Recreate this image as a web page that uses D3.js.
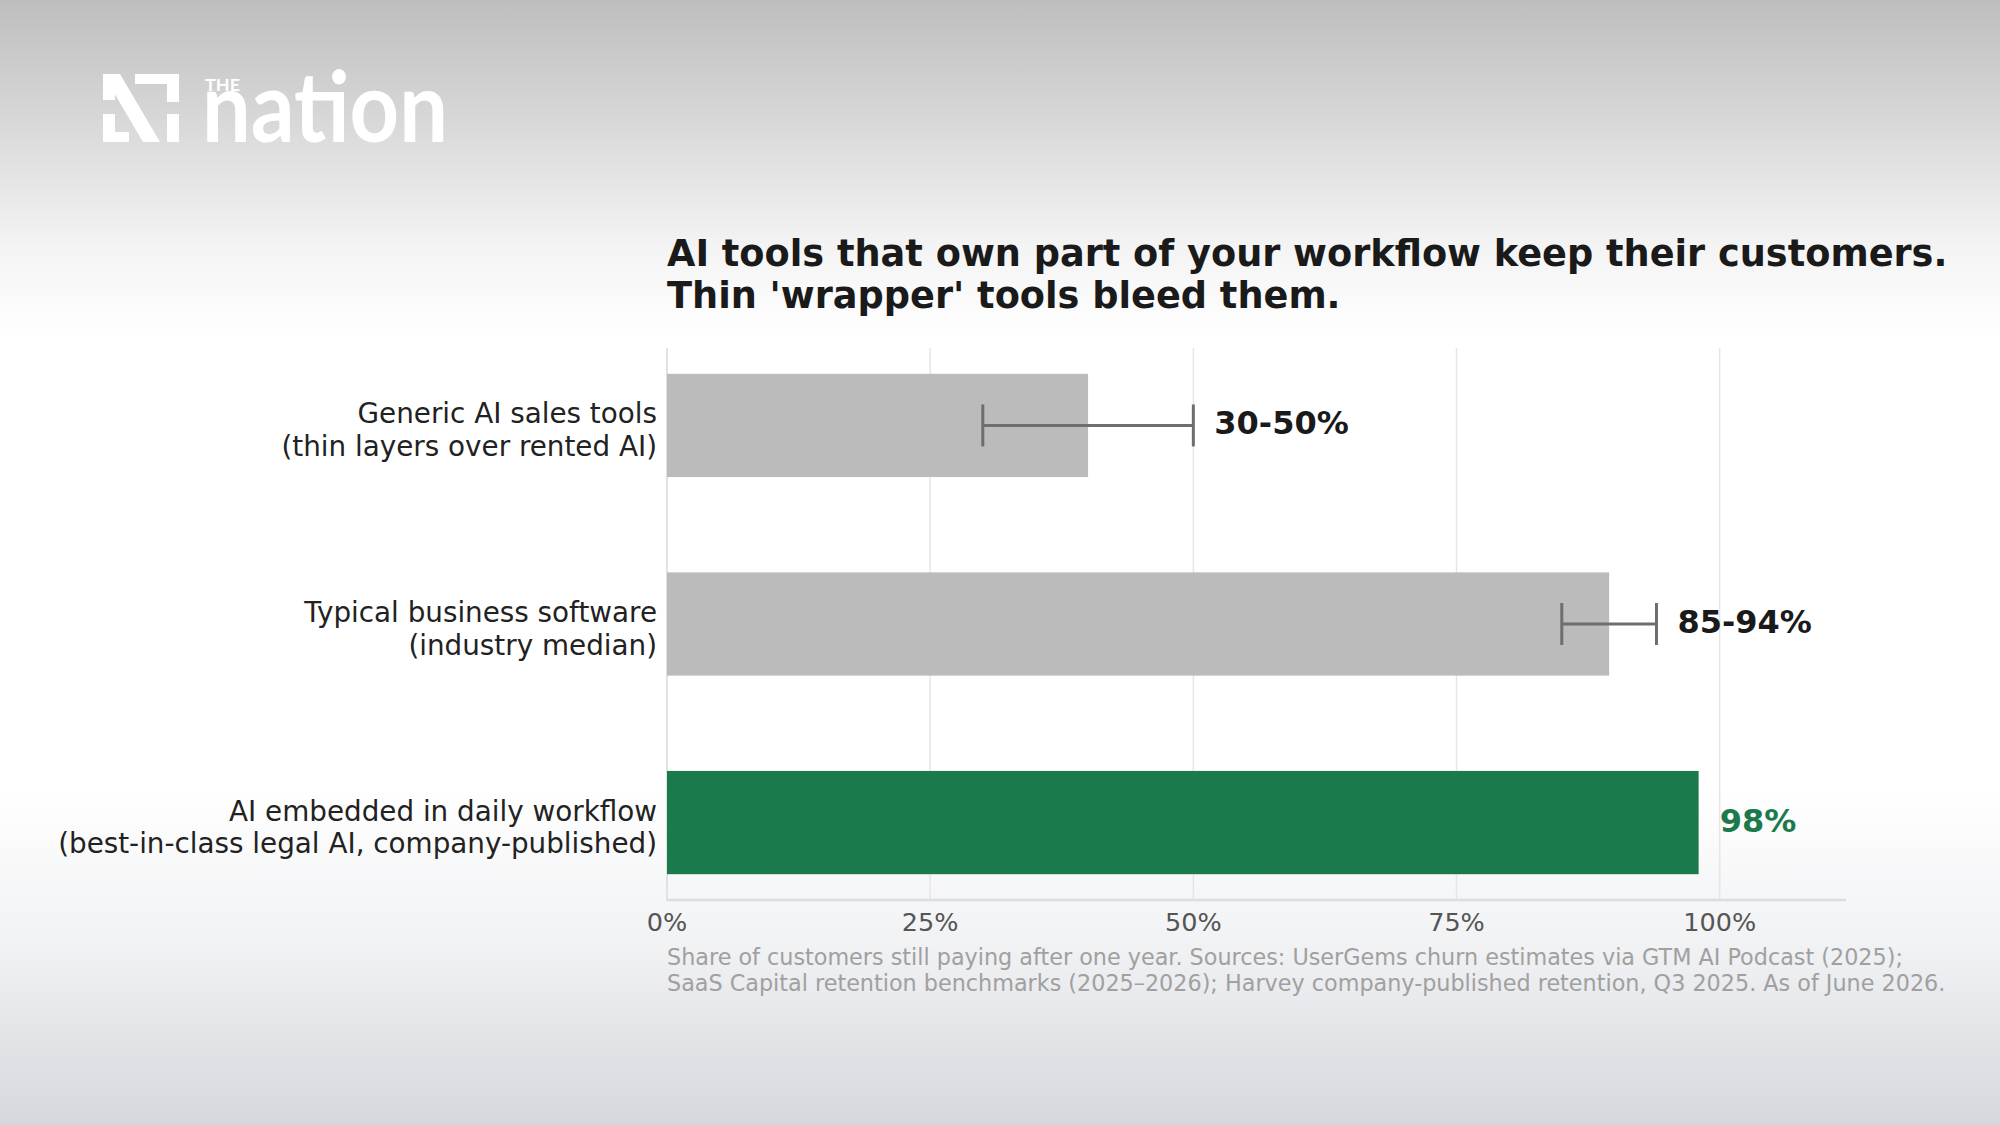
<!DOCTYPE html>
<html lang="en">
  <head>
    <meta charset="UTF-8" />
    <title>AI tools retention</title>
    <style type="text/css">
      body {
        margin: 0;
        overflow: hidden;
        font-family: "DejaVu Sans", Arial, sans-serif;
      }
      svg {
        display: block;
      }
    </style>
  </head>
  <body>
    <script src="https://d3js.org/d3.v7.min.js"></script>
    <script>
      // data
      var labelTop = [
        "Generic AI sales tools",
        "Typical business software",
        "AI embedded in daily workflow",
      ];
      var labelBottom = [
        "(thin layers over rented AI)",
        "(industry median)",
        "(best-in-class legal AI, company-published)",
      ];
      var barValues = [40, 89.5, 98];
      var rangeLow = [30, 85, null];
      var rangeHigh = [50, 94, null];
      var valueLabels = ["30-50%", "85-94%", "98%"];
      var barColors = ["#bbbbbb", "#bbbbbb", "#1b7a4b"];
      var labelColors = ["#1a1a1a", "#1a1a1a", "#1b7a4b"];
      var xTicks = [0, 25, 50, 75, 100];
      var titleLines = [
        "AI tools that own part of your workflow keep their customers.",
        "Thin 'wrapper' tools bleed them.",
      ];
      var captionLines = [
        "Share of customers still paying after one year. Sources: UserGems churn estimates via GTM AI Podcast (2025);",
        "SaaS Capital retention benchmarks (2025\u20132026); Harvey company-published retention, Q3 2025. As of June 2026.",
      ];

      var width = 2000;
      var height = 1125;
      var plot = { left: 667, right: 1846, top: 348, bottom: 900 };

      var svg = d3
        .select("body")
        .append("svg")
        .attr("width", width)
        .attr("height", height);

      // page background
      var defs = svg.append("defs");
      var bg = defs
        .append("linearGradient")
        .attr("id", "bg")
        .attr("x1", 0)
        .attr("y1", 0)
        .attr("x2", 0)
        .attr("y2", 1);
      [
        [0, "#bebebe"],
        [0.1, "#d6d6d6"],
        [0.22, "#f4f4f4"],
        [0.3, "#ffffff"],
        [0.7, "#ffffff"],
        [0.84, "#f1f2f4"],
        [1, "#d4d7dc"],
      ].forEach(([o, c]) => bg.append("stop").attr("offset", o).attr("stop-color", c));

      svg.append("rect").attr("width", width).attr("height", height).attr("fill", "url(#bg)");

      // logo
      var logo = svg.append("g").attr("transform", "translate(103,74)").attr("fill", "#ffffff");
      logo.append("polygon").attr("points", "0,0 17,0 57,68 40,68");
      logo.append("rect").attr("x", 0).attr("y", 0).attr("width", 12).attr("height", 26);
      logo.append("rect").attr("x", 0).attr("y", 40).attr("width", 12).attr("height", 28);
      logo.append("rect").attr("x", 0).attr("y", 58).attr("width", 26).attr("height", 10);
      logo.append("rect").attr("x", 32).attr("y", 0).attr("width", 44).attr("height", 10);
      logo.append("rect").attr("x", 64).attr("y", 0).attr("width", 12).attr("height", 28);
      logo.append("rect").attr("x", 64).attr("y", 40).attr("width", 12).attr("height", 28);

      svg
        .append("text")
        .attr("x", 205)
        .attr("y", 91)
        .attr("fill", "#ffffff")
        .style("font-family", "Lato")
        .style("font-weight", 700)
        .style("font-size", "17px")
        .attr("textLength", 35)
        .attr("lengthAdjust", "spacingAndGlyphs")
        .text("THE");
      svg
        .append("text")
        .attr("x", 202)
        .attr("y", 142)
        .attr("fill", "#ffffff")
        .style("font-family", "Lato")
        .style("font-weight", 700)
        .style("font-size", "98px")
        .attr("textLength", 246)
        .attr("lengthAdjust", "spacingAndGlyphs")
        .text("nation");

      // scales
      var x = d3.scaleLinear().domain([0, 112]).range([plot.left, plot.right]);
      var y = d3
        .scaleBand()
        .domain(d3.range(barValues.length))
        .range([plot.top, plot.bottom])
        .paddingInner(0.48)
        .paddingOuter(0.13);

      // gridlines
      svg
        .append("g")
        .selectAll("line")
        .data(xTicks)
        .join("line")
        .attr("x1", (d) => x(d))
        .attr("x2", (d) => x(d))
        .attr("y1", plot.top)
        .attr("y2", plot.bottom)
        .attr("stroke", "#e6e6e6")
        .attr("stroke-width", 1.5);

      // spines
      svg
        .append("line")
        .attr("x1", plot.left)
        .attr("x2", plot.left)
        .attr("y1", plot.top)
        .attr("y2", plot.bottom)
        .attr("stroke", "#e2e2e2")
        .attr("stroke-width", 2);
      svg
        .append("line")
        .attr("x1", plot.left)
        .attr("x2", plot.right)
        .attr("y1", plot.bottom)
        .attr("y2", plot.bottom)
        .attr("stroke", "#dddddd")
        .attr("stroke-width", 2.5);

      // bars
      svg
        .append("g")
        .selectAll("rect")
        .data(barValues)
        .join("rect")
        .attr("x", x(0))
        .attr("y", (d, i) => y(i))
        .attr("width", (d) => x(d) - x(0))
        .attr("height", y.bandwidth())
        .attr("fill", (d, i) => barColors[i]);

      // range whiskers
      var rangeIdx = d3.range(barValues.length).filter((i) => rangeLow[i] != null);
      var whisker = svg
        .append("g")
        .attr("stroke", "#6e6e6e")
        .attr("stroke-width", 3)
        .selectAll("g")
        .data(rangeIdx)
        .join("g")
        .attr("transform", (i) => `translate(0,${y(i) + y.bandwidth() / 2})`);
      whisker
        .append("line")
        .attr("x1", (i) => x(rangeLow[i]))
        .attr("x2", (i) => x(rangeHigh[i]));
      whisker
        .append("line")
        .attr("x1", (i) => x(rangeLow[i]))
        .attr("x2", (i) => x(rangeLow[i]))
        .attr("y1", -21)
        .attr("y2", 21);
      whisker
        .append("line")
        .attr("x1", (i) => x(rangeHigh[i]))
        .attr("x2", (i) => x(rangeHigh[i]))
        .attr("y1", -21)
        .attr("y2", 21);

      // value labels
      svg
        .append("g")
        .selectAll("text")
        .data(valueLabels)
        .join("text")
        .attr("x", (d, i) => x(Math.max(barValues[i], rangeHigh[i] || 0)) + 21)
        .attr("y", (d, i) => y(i) + y.bandwidth() / 2)
        .attr("dy", "0.28em")
        .attr("fill", (d, i) => labelColors[i])
        .style("font-weight", "bold")
        .style("font-size", "32px")
        .text((d) => d);

      // category labels
      var cat = svg
        .append("g")
        .attr("text-anchor", "end")
        .attr("fill", "#222222")
        .style("font-size", "27.8px")
        .selectAll("text")
        .data(labelTop)
        .join("text")
        .attr("x", plot.left - 10)
        .attr("y", (d, i) => y(i) + y.bandwidth() / 2);
      cat
        .append("tspan")
        .attr("x", plot.left - 10)
        .attr("dy", -2)
        .text((d) => d);
      cat
        .append("tspan")
        .attr("x", plot.left - 10)
        .attr("dy", 32.5)
        .text((d, i) => labelBottom[i]);

      // x tick labels
      svg
        .append("g")
        .attr("text-anchor", "middle")
        .attr("fill", "#555555")
        .style("font-size", "25.5px")
        .selectAll("text")
        .data(xTicks)
        .join("text")
        .attr("x", (d) => x(d))
        .attr("y", 931)
        .text((d) => d + "%");

      // title
      svg
        .append("g")
        .attr("fill", "#1a1a1a")
        .style("font-weight", "bold")
        .style("font-size", "36.7px")
        .selectAll("text")
        .data(titleLines)
        .join("text")
        .attr("x", plot.left)
        .attr("y", (d, i) => 266 + i * 42)
        .text((d) => d);

      // caption
      svg
        .append("g")
        .attr("fill", "#a0a0a0")
        .style("font-size", "22.3px")
        .selectAll("text")
        .data(captionLines)
        .join("text")
        .attr("x", plot.left)
        .attr("y", (d, i) => 965 + i * 25.5)
        .text((d) => d);
    </script>
  </body>
</html>
